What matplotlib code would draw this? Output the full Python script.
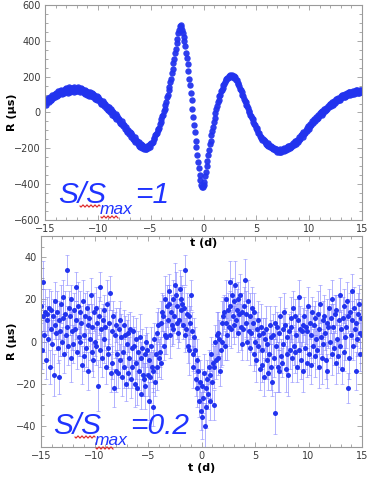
import numpy as np
import matplotlib.pyplot as plt
from matplotlib.lines import Line2D
from matplotlib.ticker import MultipleLocator

# time grid (days)
t_start = -15
t_end = 15
n_points = 401

# residuals, full signal (microseconds)
r_full = [
    62, 43, 70, 58, 80, 60, 85, 71, 72, 98, 79, 95, 105, 84, 110, 92,
    96, 118, 101, 122, 126, 103, 121, 109, 108, 133, 115, 138, 130, 111, 140, 118,
    115, 139, 122, 134, 141, 117, 132, 120, 136, 119, 142, 124, 113, 135, 118, 130,
    128, 109, 125, 104, 120, 98, 116, 101, 94, 113, 90, 108, 104, 85, 97, 78,
    75, 92, 68, 84, 78, 58, 71, 50, 47, 62, 38, 53, 45, 26, 37, 15,
    12, 28, 3, 17, 10, -12, 1, -22, -26, -10, -35, -20, -30, -50, -38, -60,
    -66, -50, -75, -62, -70, -92, -80, -103, -108, -95, -120, -108, -115, -136, -126, -147,
    -151, -138, -162, -152, -158, -177, -166, -186, -190, -176, -196, -183, -188, -205, -190, -206,
    -203, -186, -198, -180, -178, -190, -168, -172, -165, -146, -145, -128, -120, -116, -98, -94,
    -84, -63, -55, -35, -22, -12, 11, 22, 43, 57, 84, 98, 124, 141, 171, 188,
    218, 240, 276, 298, 334, 354, 388, 410, 442, 463, 481, 490, 478, 463, 444, 421,
    398, 370, 333, 304, 268, 232, 188, 152, 108, 67, 18, -23, -72, -110, -157, -195,
    -238, -277, -308, -347, -378, -402, -418, -414, -403, -388, -352, -330, -297, -272, -238, -212,
    -178, -157, -128, -106, -82, -53, -32, -4, 22, 36, 57, 71, 92, 100, 118, 126,
    138, 153, 158, 172, 182, 186, 193, 195, 204, 198, 209, 201, 211, 200, 206, 194,
    197, 184, 180, 166, 158, 150, 133, 126, 115, 97, 90, 74, 62, 57, 41, 35,
    25, 9, 4, -12, -17, -33, -38, -53, -63, -68, -84, -88, -97, -112, -115, -130,
    -140, -138, -152, -149, -155, -167, -160, -175, -180, -172, -188, -181, -193, -185, -200, -192,
    -206, -196, -212, -203, -205, -219, -208, -222, -218, -205, -220, -208, -202, -215, -200, -212,
    -210, -195, -204, -189, -186, -198, -180, -192, -188, -172, -181, -165, -160, -174, -152, -163,
    -156, -138, -148, -128, -122, -136, -111, -121, -114, -95, -103, -84, -78, -92, -66, -76,
    -70, -50, -60, -40, -35, -48, -25, -36, -30, -12, -20, -2, 3, -12, 10, -2,
    18, 6, 27, 15, 22, 38, 28, 46, 50, 36, 56, 44, 48, 66, 55, 73,
    76, 62, 82, 70, 72, 91, 79, 97, 98, 84, 103, 89, 92, 110, 95, 112,
    113, 98, 117, 102, 104, 122, 106, 120, 123, 108, 125, 110, 109, 126, 112, 128,
    121,
]

# residuals at S/Smax = 0.2 (microseconds)
r_low = [
    17, -4, 12, 28, 3, 14, -9, 10, 13, 1, 16, -12, 6, 15, -1, 12,
    -16, 8, 19, 4, 14, -3, 10, -17, 5, 18, 0, 11, 21, -6, 13, 3,
    34, 7, -2, 16, 12, -8, 20, 5, -1, 15, 6, 26, 10, -5, 17, 2,
    14, 0, 9, -11, 19, 3, -7, 12, -3, 16, 8, -14, 11, 1, 22, -5,
    7, -9, 14, 0, 16, -2, 9, -21, 12, 26, -4, 6, -8, 10, 1, 15,
    7, -12, 18, -3, -6, 9, 23, -15, 5, -10, 12, -22, 3, -14, 8, -6,
    -15, 6, -9, 10, 2, -17, -5, 8, -12, 3, -20, -1, 4, -15, -8, 6,
    -18, -3, -12, 5, -2, -20, -10, 1, -22, -5, -14, 2, -8, -25, -3, -16,
    -18, -6, -21, 0, -4, -16, -28, -9, -17, -2, -12, -31, -14, 1, -19, -6,
    4, -12, 8, -8, -5, 9, -10, 14, 12, -2, 20, 3, 2, 17, 10, 24,
    18, 3, 14, 8, 6, 20, 12, 27, 22, 9, 17, 4, 10, 25, 15, 20,
    18, 8, 16, 3, 34, 6, 13, -2, 12, -4, 9, 22, 5, -12, -6, 2,
    -4, -18, -9, -22, -14, -28, -19, -33, -21, -36, -27, -15, -40, -22, -31, -18,
    -25, -12, -28, -16, -6, -19, -10, -30, -12, 0, -9, 3, 4, -8, 1, -14,
    -4, 9, 0, 12, 14, -2, 9, 20, 3, 15, 7, 28, 17, 6, 22, 12,
    8, 19, 27, 10, 15, 4, 20, 13, 22, 7, 14, -1, 6, 17, 29, 9,
    13, 0, 19, 5, -3, 12, 4, 16, 9, -6, 14, 0, -9, 6, -2, 10,
    3, -13, 7, -4, -11, 4, -17, 1, 6, -9, -1, -15, -6, 8, -12, 2,
    -19, 3, -8, 9, -34, -2, 7, -12, 4, -14, 12, -7, -10, 6, -1, 14,
    8, -13, 2, -6, -16, 5, -4, 11, 7, -8, 16, -2, -5, 12, 3, -12,
    10, -4, 21, 6, -9, 5, -14, 8, 12, -3, 7, -10, 5, 17, -6, 9,
    -11, 3, 14, -2, 8, -7, 11, 1, -4, 13, 6, -12, 18, 2, -8, 10,
    -1, 12, 4, -9, 9, -14, 7, 16, 0, 11, -6, 20, 7, -3, 13, -10,
    15, 1, -7, 10, -2, 22, 6, -13, 11, -5, 17, 2, 7, 19, -22, 12,
    -8, 14, 3, 24, 10, -2, 16, 6, -14, 9, 1, 13, 18, 4, -6, 11,
    3,
]

r_low_err = [
    8, 9, 7, 10, 8, 11, 9, 7, 8, 10, 9, 8, 7, 9, 11, 8, 10, 7, 9, 8,
    10, 7, 9, 8, 12, 9, 7, 10, 8, 9, 11, 8, 7, 10, 9, 8, 9, 11, 7, 9,
    9, 8, 10, 7, 9, 8, 11, 9, 10, 7, 8, 9, 10, 8, 7, 11, 9, 8, 10, 9,
    7, 10, 8, 9, 11, 8, 9, 7, 10, 9, 8, 12, 9, 7, 8, 10, 9, 8, 11, 7,
    9, 8, 11, 9, 7, 10, 8, 9, 10, 8, 7, 9, 11, 10, 8, 9, 7, 10, 8, 9,
    11, 9, 8, 7, 10, 9, 8, 11, 9, 7, 10, 8, 9, 8, 10, 7, 9, 11, 8, 10,
    8, 10, 9, 11, 8, 7, 9, 10, 8, 9, 11, 7, 8, 10, 9, 8, 12, 9, 7, 9,
    10, 8, 7, 9, 10, 11, 8, 9, 7, 10, 8, 9, 10, 7, 11, 9, 8, 10, 9, 8,
    9, 11, 8, 10, 7, 9, 8, 10, 11, 8, 9, 7, 10, 9, 8, 11, 9, 7, 10, 8,
    7, 9, 10, 8, 9, 12, 8, 7, 9, 10, 8, 9, 11, 8, 10, 9, 7, 8, 10, 9,
    8, 10, 7, 9, 11, 8, 10, 9, 7, 8, 9, 11, 8, 10, 9, 7, 10, 8, 9, 11,
    10, 8, 9, 7, 8, 10, 11, 9, 8, 7, 10, 9, 12, 8, 9, 10, 7, 9, 8, 10,
    9, 7, 11, 8, 10, 9, 8, 7, 10, 11, 9, 8, 7, 9, 10, 8, 11, 9, 10, 7,
    8, 11, 9, 10, 7, 8, 9, 11, 10, 8, 7, 9, 8, 10, 11, 9, 8, 7, 9, 10,
    11, 9, 7, 8, 10, 9, 11, 8, 7, 10, 9, 8, 10, 9, 7, 12, 8, 10, 9, 8,
    7, 8, 10, 9, 8, 11, 7, 9, 10, 8, 9, 10, 7, 11, 8, 9, 10, 8, 9, 7,
    10, 9, 8, 11, 9, 7, 10, 8, 9, 10, 8, 7, 11, 9, 10, 8, 9, 11, 7, 8,
    9, 10, 8, 7, 9, 11, 8, 10, 9, 8, 12, 9, 7, 10, 8, 9, 11, 8, 10, 9,
    8, 7, 10, 9, 11, 8, 9, 10, 7, 9, 8, 11, 10, 8, 9, 7, 10, 9, 8, 11,
    10, 9, 7, 8, 10, 9, 11, 8, 9, 7, 10, 8, 9, 11, 8, 10, 9, 7, 8, 9,
    9,
]

t_days = np.linspace(t_start, t_end, n_points)

W, H = 387, 480
BLUE = '#2233ee'
TEXT_BLUE = '#1f33ff'
FRAME = '#9a9a9a'
TICKTXT = '#3a3a3a'


def fig_box(left, top, right, bottom):
    # pixel box -> figure fraction [l, b, w, h]
    return [left / W, 1 - bottom / H, (right - left) / W, (bottom - top) / H]


def squiggle(fig, x0, x1, y):
    # red spell-check style wavy underline, in pixels
    xs = np.linspace(x0, x1, 60)
    ys = y + 1.0 * np.sin((xs - x0) / 4.0 * 2 * np.pi)
    fig.add_artist(Line2D(xs / W, 1 - ys / H, color='#dd2222', lw=0.8,
                          transform=fig.transFigure))


def style_axes(ax, xmaj, xmin, ymaj, ymin):
    ax.xaxis.set_major_locator(MultipleLocator(xmaj))
    ax.xaxis.set_minor_locator(MultipleLocator(xmin))
    ax.yaxis.set_major_locator(MultipleLocator(ymaj))
    ax.yaxis.set_minor_locator(MultipleLocator(ymin))
    ax.tick_params(which='both', direction='in', top=True, right=True,
                   color=FRAME, labelcolor=TICKTXT, labelsize=7, width=0.6)
    ax.tick_params(which='major', length=3.5, pad=3)
    ax.tick_params(which='minor', length=2)
    for sp in ax.spines.values():
        sp.set_color(FRAME)
        sp.set_linewidth(0.8)


def ratio_label(fig, x, y, value):
    fig.text(x / W, 1 - y / H, 'S/S', color=TEXT_BLUE, fontsize=21.5,
             family='Liberation Sans', style='italic', va='baseline')
    fig.text((x + 42) / W, 1 - (y + 11) / H, 'max', color=TEXT_BLUE,
             fontsize=12.5, family='Liberation Sans', style='italic',
             va='baseline')
    fig.text((x + 77) / W, 1 - y / H, '=' + value, color=TEXT_BLUE,
             fontsize=21.5, family='Liberation Sans', style='italic',
             va='baseline')
    squiggle(fig, x + 22, x + 42, y + 3)
    squiggle(fig, x + 43, x + 60, y + 14)


fig = plt.figure(figsize=(W / 100, H / 100), dpi=100)

ax_top = fig.add_axes(fig_box(45, 5, 362, 220))
ax_bot = fig.add_axes(fig_box(41, 236, 362, 447))
ax_bot.patch.set_alpha(0)

# top: full signal
ax_top.plot(t_days, r_full, 'o', color=BLUE, markersize=4.6,
            markeredgewidth=0, alpha=0.95)
ax_top.set_xlim(-15, 15)
ax_top.set_ylim(-600, 600)
style_axes(ax_top, 5, 1, 200, 50)
ax_top.set_xlabel('t (d)', fontsize=8, fontweight='bold')
ax_top.set_ylabel('R (μs)', fontsize=8, fontweight='bold')
ax_top.xaxis.set_label_coords(0.5, (220 - 238) / 215)
ax_top.yaxis.set_label_coords((17 - 45) / 317, 0.5)

# bottom: weak signal with error bars
ax_bot.errorbar(t_days, r_low, yerr=r_low_err, fmt='none',
                ecolor=(0.5, 0.5, 1.0, 0.6), elinewidth=0.7,
                capsize=1.5, capthick=0.6)
ax_bot.plot(t_days, r_low, 'o', color=BLUE, markersize=3.6,
            markeredgewidth=0)
ax_bot.set_xlim(-15, 15)
ax_bot.set_ylim(-50, 50)
style_axes(ax_bot, 5, 1, 20, 5)
ax_bot.set_xlabel('t (d)', fontsize=8, fontweight='bold')
ax_bot.set_ylabel('R (μs)', fontsize=8, fontweight='bold')
ax_bot.xaxis.set_label_coords(0.5, (447 - 463) / 211)
ax_bot.yaxis.set_label_coords((17 - 41) / 321, 0.5)

ratio_label(fig, 58, 203, '1')
ratio_label(fig, 53, 434, '0.2')

fig.savefig('out.png', dpi=100)
plt.close(fig)
